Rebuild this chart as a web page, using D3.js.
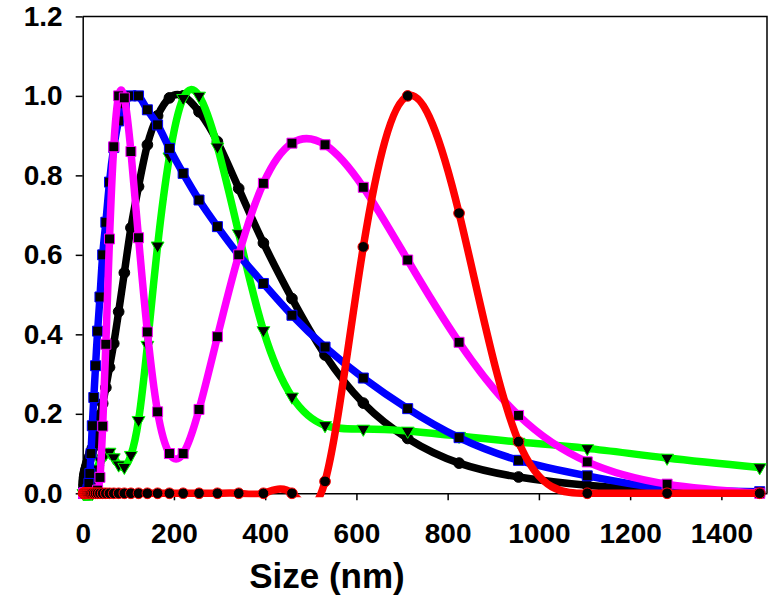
<!DOCTYPE html>
<html>
<head>
<meta charset="utf-8">
<script src="https://cdnjs.cloudflare.com/ajax/libs/d3/7.8.5/d3.min.js"></script>
<style>
  body { margin: 0; background: #fff; }
  svg text { font-family: "Liberation Sans", Arial, sans-serif; font-weight: bold; fill: #000; }
</style>
</head>
<body>
<div id="chart"></div>
<script>
// size bins (nm) of the DLS distribution
var sizes = [2.010, 2.328, 2.696, 3.122, 3.615, 4.187, 4.849, 5.615, 6.503, 7.531,
  8.721, 10.10, 11.70, 13.54, 15.69, 18.17, 21.04, 24.36, 28.21, 32.67,
  37.84, 43.82, 50.75, 58.77, 68.06, 78.82, 91.28, 105.7, 122.4, 141.8,
  164.2, 190.1, 220.2, 255.0, 295.3, 342.0, 396.1, 458.7, 531.2, 615.1,
  712.4, 825.0, 955.4, 1106, 1281, 1484];

var blackSeries = [0.000, 0.010, 0.020, 0.028, 0.035, 0.041, 0.046, 0.051, 0.056, 0.061,
  0.066, 0.072, 0.078, 0.085, 0.093, 0.102, 0.113, 0.127, 0.143, 0.165,
  0.196, 0.226, 0.266, 0.317, 0.377, 0.457, 0.555, 0.668, 0.772, 0.877,
  0.950, 0.995, 1.000, 0.960, 0.885, 0.767, 0.630, 0.490, 0.348, 0.227,
  0.138, 0.076, 0.041, 0.020, 0.006, 0.001];

var greenSeries = [0, 0, 0, 0, 0, 0, 0, 0, 0, 0,
  0, 0, 0, 0, 0, 0, 0, 0.010, 0.035, 0.062,
  0.083, 0.088, 0.100, 0.104, 0.090, 0.072, 0.066, 0.096, 0.184, 0.373,
  0.623, 0.847, 0.994, 1.000, 0.872, 0.654, 0.410, 0.243, 0.171, 0.162,
  0.157, 0.144, 0.129, 0.113, 0.089, 0.065];

var blueSeries = [0, 0, 0, 0, 0, 0, 0, 0, 0, 0,
  0, 0.004, 0.010, 0.025, 0.050, 0.100, 0.170, 0.241, 0.321, 0.408,
  0.494, 0.600, 0.682, 0.783, 0.870, 0.937, 0.980, 1.000, 1.000, 0.965,
  0.927, 0.868, 0.805, 0.738, 0.671, 0.600, 0.528, 0.448, 0.368, 0.290,
  0.213, 0.140, 0.083, 0.044, 0.012, 0.004];

var magentaSeries = [0, 0, 0, 0, 0, 0, 0, 0, 0, 0,
  0, 0, 0, 0, 0, 0, 0, 0, 0, 0.008,
  0.040, 0.169, 0.375, 0.640, 0.872, 1.000, 0.995, 0.860, 0.643, 0.406,
  0.205, 0.100, 0.100, 0.211, 0.394, 0.600, 0.780, 0.881, 0.877, 0.770,
  0.587, 0.380, 0.196, 0.079, 0.023, 0.000];

var redSeries = [0, 0, 0, 0, 0, 0, 0, 0, 0, 0,
  0, 0, 0, 0, 0, 0, 0, 0, 0, 0,
  0, 0, 0, 0, 0, 0, 0, 0, 0, 0,
  0, 0, 0, 0, 0, 0, 0, 0, 0.030, 0.620,
  1.000, 0.705, 0.130, 0, 0, 0];

var xTicks = [0, 200, 400, 600, 800, 1000, 1200, 1400];
var yTicks = [0, 0.2, 0.4, 0.6, 0.8, 1.0, 1.2];

var width = 770;
var height = 600;
var plotLeft = 82.7, plotRight = 767, plotTop = 16.4, plotBottom = 493.3;

var svg = d3.select('#chart')
  .append('svg')
  .attr('width', width)
  .attr('height', height);

var x = d3.scaleLinear().domain([0, 1500]).range([plotLeft, plotRight]);
var y = d3.scaleLinear().domain([0, 1.2]).range([plotBottom, plotTop]);

// curves are cut where the spline goes under zero
svg.append('defs').append('clipPath')
  .attr('id', 'plotclip')
  .append('rect')
  .attr('x', plotLeft - 10)
  .attr('y', plotTop)
  .attr('width', plotRight - plotLeft + 10)
  .attr('height', plotBottom - plotTop + 4);

// frame (top and right)
svg.append('path')
  .attr('d', 'M' + plotLeft + ',' + plotTop + 'H' + plotRight + 'V' + plotBottom)
  .attr('fill', 'none')
  .attr('stroke', '#000')
  .attr('stroke-width', 1.5);

var xAxis = svg.append('g')
  .attr('transform', 'translate(0,' + plotBottom + ')')
  .call(d3.axisBottom(x).tickValues(xTicks).tickFormat(d3.format('d'))
    .tickSizeInner(7).tickSizeOuter(0).tickPadding(23));

var yAxis = svg.append('g')
  .attr('transform', 'translate(' + plotLeft + ',0)')
  .call(d3.axisLeft(y).tickValues(yTicks).tickFormat(d3.format('.1f'))
    .tickSizeInner(7).tickSizeOuter(0).tickPadding(13));

[xAxis, yAxis].forEach(function(g) {
  g.select('.domain').attr('stroke-width', 1.5);
  g.selectAll('.tick line').attr('stroke-width', 1.5);
  g.selectAll('.tick text').attr('font-size', 28).attr('fill', '#000');
});

svg.append('text')
  .attr('x', 327)
  .attr('y', 588)
  .attr('text-anchor', 'middle')
  .attr('font-size', 35)
  .text('Size (nm)');

var series = [
  { values: blackSeries, color: '#000000', marker: 'circle' },
  { values: greenSeries, color: '#00ff00', marker: 'triangle' },
  { values: blueSeries, color: '#0000ff', marker: 'square' },
  { values: magentaSeries, color: '#ff00ff', marker: 'square' },
  { values: redSeries, color: '#ff0000', marker: 'circle' }
];

var line = d3.line()
  .x(function(d, i) { return x(sizes[i]); })
  .y(function(d) { return y(d); })
  .curve(d3.curveNatural);

var symbols = {
  circle: d3.symbol().type(d3.symbolCircle).size(90),
  square: d3.symbol().type(d3.symbolSquare).size(100),
  triangle: d3.symbol().type(d3.symbolTriangle).size(72)
};

series.forEach(function(s) {
  var g = svg.append('g');

  g.append('path')
    .attr('clip-path', 'url(#plotclip)')
    .attr('d', line(s.values))
    .attr('fill', 'none')
    .attr('stroke', s.color)
    .attr('stroke-width', 7.5)
    .attr('stroke-linecap', 'round')
    .attr('stroke-linejoin', 'round');

  g.selectAll('.pt')
    .data(s.values)
    .enter()
    .append('path')
    .attr('class', 'pt')
    .attr('d', symbols[s.marker])
    .attr('transform', function(d, i) {
      var t = 'translate(' + x(sizes[i]) + ',' + y(d) + ')';
      return s.marker == 'triangle' ? t + ' rotate(180)' : t;
    })
    .attr('fill', '#000')
    .attr('stroke', s.color)
    .attr('stroke-width', 1);
});
</script>
</body>
</html>
